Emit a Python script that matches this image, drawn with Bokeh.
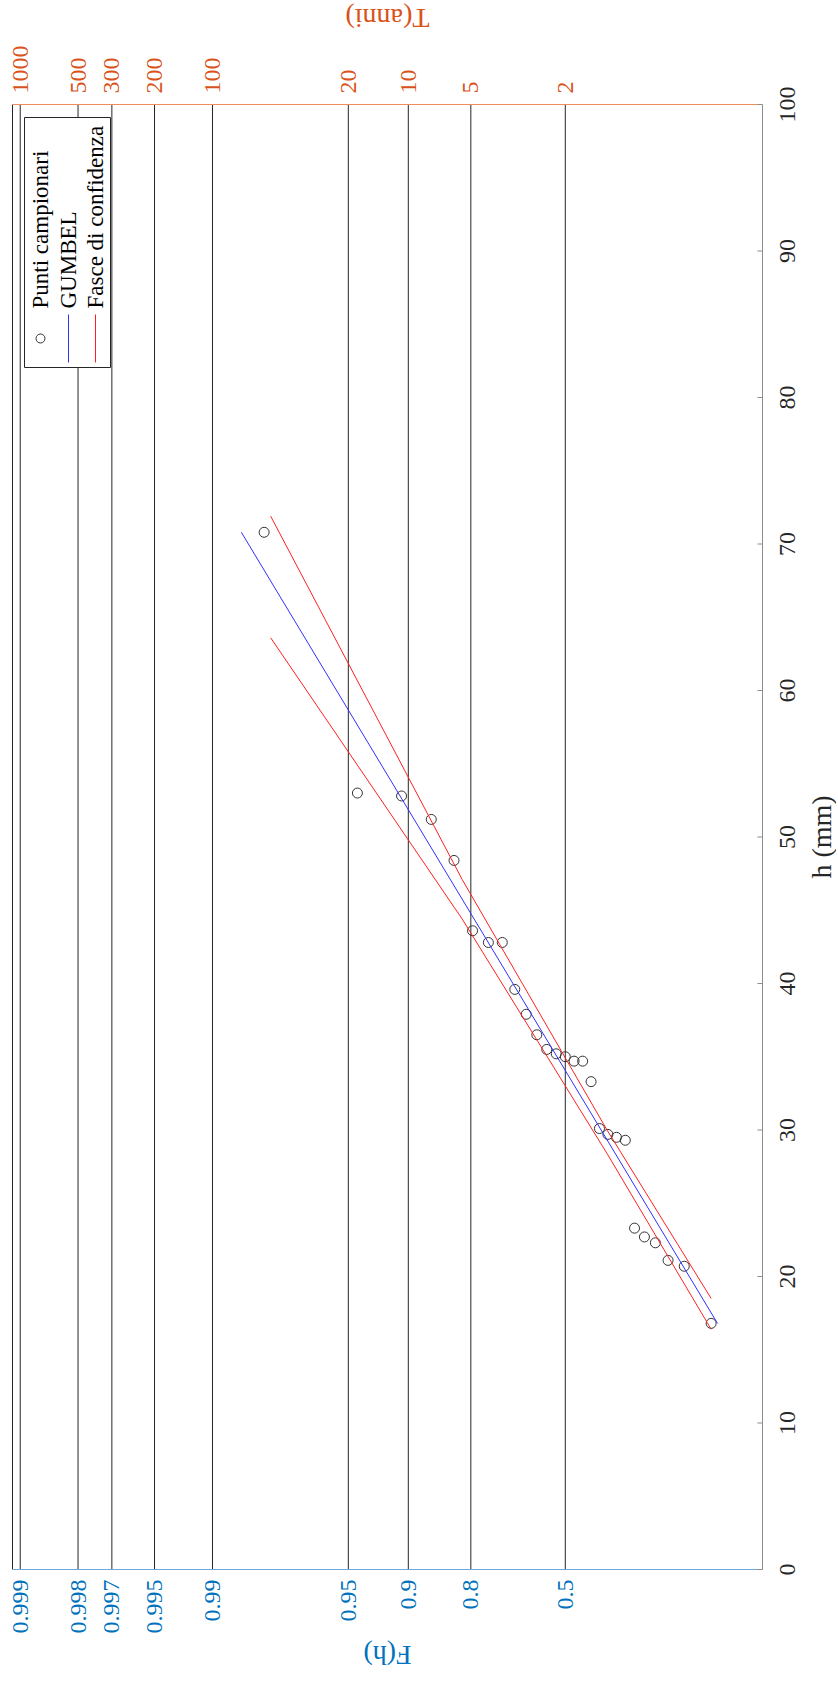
import math
from bokeh.plotting import figure
from bokeh.models import Range1d, BoxAnnotation, Label
from bokeh.core.properties import value
from bokeh.embed import file_html
from bokeh.resources import INLINE

# ---------------- data ----------------
F_ticks = [0.5, 0.8, 0.9, 0.95, 0.99, 0.995, 0.997, 0.998, 0.999]
F_labels = ["0.5", "0.8", "0.9", "0.95", "0.99", "0.995", "0.997", "0.998", "0.999"]
T_labels = ["2", "5", "10", "20", "100", "200", "300", "500", "1000"]
h_ticks = [0, 10, 20, 30, 40, 50, 60, 70, 80, 90, 100]
h_labels = ["0", "10", "20", "30", "40", "50", "60", "70", "80", "90", "100"]

# sample points: non-exceedance probability (plotting position) and rainfall h (mm)
F_points = [0.0185, 0.0556, 0.0926, 0.1296, 0.1667, 0.2037, 0.2407, 0.2778, 0.3148,
            0.3519, 0.3889, 0.4259, 0.4630, 0.5000, 0.5370, 0.5741, 0.6111, 0.6481,
            0.6852, 0.7222, 0.7593, 0.7963, 0.8333, 0.8704, 0.9074, 0.9444, 0.9815]
h_points = [16.8, 20.7, 21.1, 22.3, 22.7, 23.3, 29.3, 29.5, 29.7, 30.1, 33.3, 34.7,
            34.7, 35.0, 35.2, 35.5, 36.5, 37.9, 39.6, 42.8, 42.8, 43.6, 48.4, 51.2,
            52.8, 53.0, 70.8]

# fitted Gumbel distribution (location, scale), drawn over the sample range
gumbel_loc = 30.6
gumbel_scale = 9.45
gumbel_h = [16.8, 70.8]

# confidence bands
conf_F = [0.0185, 0.3187, 0.8178, 0.9800]
conf_upper = [18.5, 30.0, 47.1, 71.9]
conf_lower = [16.4, 28.4, 44.4, 63.6]

# axis limits (Gumbel reduced variate, h)
U_MAX, U_MIN = 7.0, -2.0
H_MIN, H_MAX = 0.0, 100.0

# ---------------- layout helpers ----------------
W, H = 836, 1684
PL, PR, PT, PB = 12.0, 762.0, 104.0, 1569.0   # plot box in canvas px


def red(F):
    return -math.log(-math.log(F))


def PX(px):
    return U_MAX - (px - PL) * (U_MAX - U_MIN) / (PR - PL)


def PY(py):
    return H_MIN + (PB - py) * (H_MAX - H_MIN) / (PB - PT)


u_ticks = [red(f) for f in F_ticks]
FONT = "Liberation Serif"
BLUE_TXT = "#0072BD"
ORANGE_TXT = "#D95319"
DARK = "#262626"
GUMBEL_C = "#3030FF"
CONF_C = "#FF2020"

p = figure(width=W, height=H, x_range=Range1d(PX(0), PX(W)), y_range=Range1d(PY(H), PY(0)),
           x_axis_location=None, y_axis_location=None,
           output_backend="svg", toolbar_location=None,
           min_border_left=0, min_border_right=0, min_border_top=0, min_border_bottom=0)
p.outline_line_color = None
p.background_fill_color = "white"
p.border_fill_color = "white"
p.xgrid.visible = False
p.ygrid.visible = False

# vertical grid lines at the probability ticks
p.segment(x0=u_ticks, x1=u_ticks, y0=[H_MIN] * len(u_ticks), y1=[H_MAX] * len(u_ticks),
          line_color="#262626", line_width=1)

# box lines
p.segment(x0=[U_MAX], x1=[U_MAX], y0=[H_MIN], y1=[H_MAX], line_color="#262626", line_width=1)
p.segment(x0=[U_MIN], x1=[U_MIN], y0=[H_MIN], y1=[H_MAX], line_color="#8c8c8c", line_width=1)
p.segment(x0=[U_MAX], x1=[U_MIN], y0=[H_MAX], y1=[H_MAX], line_color="#F08C5E", line_width=1)
p.segment(x0=[U_MAX], x1=[U_MIN], y0=[H_MIN], y1=[H_MIN], line_color="#6FA8DC", line_width=1)

# inward ticks on the h axis
p.segment(x0=[U_MIN] * len(h_ticks), x1=[PX(PR - 5)] * len(h_ticks), y0=h_ticks, y1=h_ticks,
          line_color="#8c8c8c", line_width=1)

# sample points
p.scatter([red(f) for f in F_points], h_points, marker="circle", size=10,
          fill_color=None, line_color="#333333", line_width=1)

# Gumbel line
p.line([(h - gumbel_loc) / gumbel_scale for h in gumbel_h], gumbel_h,
       line_color=GUMBEL_C, line_width=1)

# confidence bands
cu = [red(f) for f in conf_F]
p.line(cu, conf_upper, line_color=CONF_C, line_width=1)
p.line(cu, conf_lower, line_color=CONF_C, line_width=1)

# ---------------- tick labels ----------------
p.text(x=u_ticks, y=[PY(PB + 10)] * len(u_ticks), text=F_labels, angle=math.pi / 2,
       text_align="right", text_baseline="middle", text_font=value(FONT),
       text_font_size=value("24px"), text_color=BLUE_TXT)
p.text(x=u_ticks, y=[PY(PT - 11)] * len(u_ticks), text=T_labels, angle=math.pi / 2,
       text_align="left", text_baseline="middle", text_font=value(FONT),
       text_font_size=value("24px"), text_color=ORANGE_TXT)
p.text(x=[PX(PR + 25)] * len(h_ticks), y=h_ticks, text=h_labels, angle=math.pi / 2,
       text_align="center", text_baseline="middle", text_font=value(FONT),
       text_font_size=value("24px"), text_color=DARK)

# axis titles
p.text(x=[PX(387)], y=[PY(18)], text=["T(anni)"], angle=math.pi,
       text_align="center", text_baseline="middle", text_font=value(FONT),
       text_font_size=value("28px"), text_color=ORANGE_TXT)
p.text(x=[PX(387)], y=[PY(1655)], text=["F(h)"], angle=math.pi,
       text_align="center", text_baseline="middle", text_font=value(FONT),
       text_font_size=value("28px"), text_color=BLUE_TXT)
p.text(x=[PX(821)], y=[(H_MIN + H_MAX) / 2], text=["h (mm)"], angle=math.pi / 2,
       text_align="center", text_baseline="middle", text_font=value(FONT),
       text_font_size=value("28px"), text_color=DARK)

# ---------------- legend (rotated, drawn manually) ----------------
p.add_layout(BoxAnnotation(left=PX(24), right=PX(110), top=PY(117), bottom=PY(367),
                           fill_color="white", fill_alpha=1.0,
                           line_color="#262626", line_width=1, line_alpha=1.0))
p.scatter([PX(40)], [PY(338)], marker="circle", size=9, fill_color=None,
          line_color="#333333", line_width=1, level="overlay")
p.line([PX(68), PX(68)], [PY(314), PY(362)], line_color=GUMBEL_C, line_width=1, level="overlay")
p.line([PX(95), PX(95)], [PY(314), PY(362)], line_color=CONF_C, line_width=1, level="overlay")
for txt, px in [("Punti campionari", 40), ("GUMBEL", 68), ("Fasce di confidenza", 95)]:
    p.add_layout(Label(x=PX(px), y=PY(308), text=txt, angle=math.pi / 2,
                       text_align="left", text_baseline="middle",
                       text_font=FONT, text_font_size="23px", text_color="black"))

open("out.html", "w").write(file_html(p, INLINE))
